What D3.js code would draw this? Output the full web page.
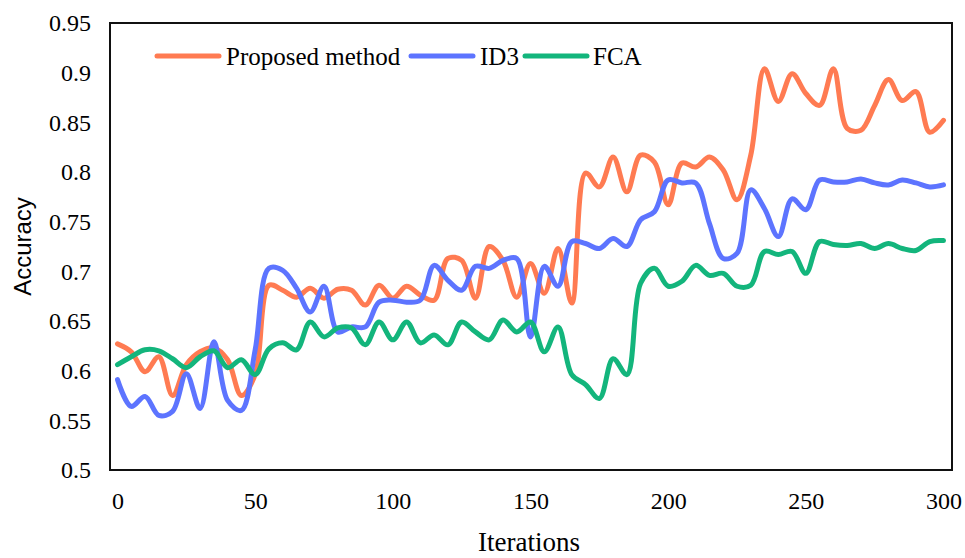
<!DOCTYPE html>
<html>
<head>
<meta charset="utf-8">
<script src="https://cdn.jsdelivr.net/npm/d3@7"></script>
<style>
  html, body { margin: 0; padding: 0; background: #fff; }
  svg { display: block; }
</style>
</head>
<body>
<svg id="chart" width="965" height="558"></svg>
<script>
// iterations sampled every 5 steps
const iterations = d3.range(0, 301, 5);

const proposed = [
  0.627, 0.619, 0.599, 0.614, 0.575, 0.606, 0.619, 0.623, 0.611, 0.575,
  0.596, 0.686, 0.681, 0.674, 0.683, 0.673, 0.682, 0.681, 0.666, 0.686,
  0.673, 0.685, 0.676, 0.671, 0.713, 0.711, 0.673, 0.725, 0.711, 0.674,
  0.708, 0.678, 0.723, 0.668, 0.799, 0.785, 0.815, 0.780, 0.817, 0.810,
  0.767, 0.809, 0.805, 0.815, 0.802, 0.772, 0.817, 0.904, 0.871, 0.899,
  0.879, 0.867, 0.904, 0.844, 0.842, 0.867, 0.893, 0.872, 0.881, 0.840,
  0.852
];

const id3 = [
  0.591, 0.564, 0.574, 0.555, 0.559, 0.597, 0.562, 0.629, 0.570, 0.560,
  0.621, 0.703, 0.701, 0.683, 0.659, 0.685, 0.639, 0.644, 0.644, 0.669,
  0.671, 0.669, 0.671, 0.706, 0.691, 0.681, 0.705, 0.703, 0.711, 0.713,
  0.634, 0.705, 0.685, 0.730, 0.728, 0.723, 0.733, 0.725, 0.752, 0.760,
  0.792, 0.789, 0.789, 0.748, 0.713, 0.718, 0.782, 0.763, 0.735, 0.773,
  0.762, 0.792, 0.790, 0.790, 0.793, 0.789, 0.787, 0.792, 0.789, 0.785,
  0.787
];

const fca = [
  0.606, 0.614, 0.621, 0.620, 0.612, 0.603, 0.614, 0.620, 0.603, 0.611,
  0.596, 0.622, 0.628, 0.621, 0.649, 0.634, 0.643, 0.643, 0.626, 0.649,
  0.631, 0.649, 0.628, 0.636, 0.626, 0.649, 0.639, 0.631, 0.651, 0.639,
  0.649, 0.619, 0.644, 0.596, 0.586, 0.572, 0.612, 0.596, 0.688, 0.703,
  0.685, 0.690, 0.706, 0.696, 0.698, 0.685, 0.686, 0.720, 0.717, 0.720,
  0.698, 0.730, 0.727, 0.726, 0.728, 0.723, 0.728, 0.723, 0.721, 0.730,
  0.731
];

const seriesNames = ['Proposed method', 'ID3', 'FCA'];
const seriesColors = ['#ff7b52', '#5d74ff', '#13b57c'];
const xTicks = [0, 50, 100, 150, 200, 250, 300];
const yTicks = [0.5, 0.55, 0.6, 0.65, 0.7, 0.75, 0.8, 0.85, 0.9, 0.95];

const svg = d3.select('#chart');

const frame = {left: 110, right: 952, top: 23, bottom: 470};

const x = d3.scaleLinear()
    .domain([0, 300])
    .range([117.5, 943.5]);

const y = d3.scaleLinear()
    .domain([0.5, 0.95])
    .range([frame.bottom, frame.top]);

const serif = '"Liberation Serif", "Times New Roman", serif';

// y tick labels
const yAxis = d3.axisLeft(y)
    .tickValues(yTicks)
    .tickSize(0)
    .tickPadding(0)
    .tickFormat(d => String(+d.toFixed(2)));

svg.append('g')
    .attr('transform', 'translate(91,0)')
    .call(yAxis)
    .call(g => g.select('.domain').remove())
    .selectAll('text')
    .attr('fill', '#000')
    .style('font-family', serif)
    .style('font-size', '24px');

// x tick labels
const xAxis = d3.axisBottom(x)
    .tickValues(xTicks)
    .tickSize(0)
    .tickPadding(0)
    .tickFormat(d3.format('d'));

svg.append('g')
    .attr('transform', 'translate(0,' + (frame.bottom + 22) + ')')
    .call(xAxis)
    .call(g => g.select('.domain').remove())
    .selectAll('text')
    .attr('fill', '#000')
    .style('font-family', serif)
    .style('font-size', '24px');

// series lines
const line = d3.line()
    .x((d, i) => x(iterations[i]))
    .y(d => y(d))
    .curve(d3.curveCatmullRom.alpha(0.5));

const allSeries = [proposed, id3, fca];

svg.append('g')
    .selectAll('path')
    .data(allSeries)
    .join('path')
    .attr('d', line)
    .attr('fill', 'none')
    .attr('stroke', (d, i) => seriesColors[i])
    .attr('stroke-width', 5)
    .attr('stroke-linejoin', 'round')
    .attr('stroke-linecap', 'round');

// plot frame
svg.append('rect')
    .attr('x', frame.left)
    .attr('y', frame.top)
    .attr('width', frame.right - frame.left)
    .attr('height', frame.bottom - frame.top)
    .attr('fill', 'none')
    .attr('stroke', '#111')
    .attr('stroke-width', 2);

// legend
const legendItems = [
    {name: seriesNames[0], color: seriesColors[0], x0: 157, x1: 219, tx: 226},
    {name: seriesNames[1], color: seriesColors[1], x0: 411, x1: 473, tx: 480},
    {name: seriesNames[2], color: seriesColors[2], x0: 525, x1: 587, tx: 593}
];

const legend = svg.append('g').attr('class', 'legend');

legend.selectAll('line')
    .data(legendItems)
    .join('line')
    .attr('x1', d => d.x0)
    .attr('x2', d => d.x1)
    .attr('y1', 56)
    .attr('y2', 56)
    .attr('stroke', d => d.color)
    .attr('stroke-width', 5)
    .attr('stroke-linecap', 'round');

legend.selectAll('text')
    .data(legendItems)
    .join('text')
    .attr('x', d => d.tx)
    .attr('y', 56)
    .attr('dy', '0.34em')
    .style('font-family', serif)
    .style('font-size', '25px')
    .attr('fill', '#000')
    .text(d => d.name);

// axis titles
svg.append('text')
    .attr('transform', 'translate(31,' + ((frame.top + frame.bottom) / 2) + ') rotate(-90)')
    .attr('text-anchor', 'middle')
    .style('font-family', '"Liberation Sans", Arial, sans-serif')
    .style('font-size', '24px')
    .attr('fill', '#000')
    .text('Accuracy');

svg.append('text')
    .attr('x', 529)
    .attr('y', 551)
    .attr('text-anchor', 'middle')
    .style('font-family', serif)
    .style('font-size', '27px')
    .attr('fill', '#000')
    .text('Iterations');
</script>
</body>
</html>
